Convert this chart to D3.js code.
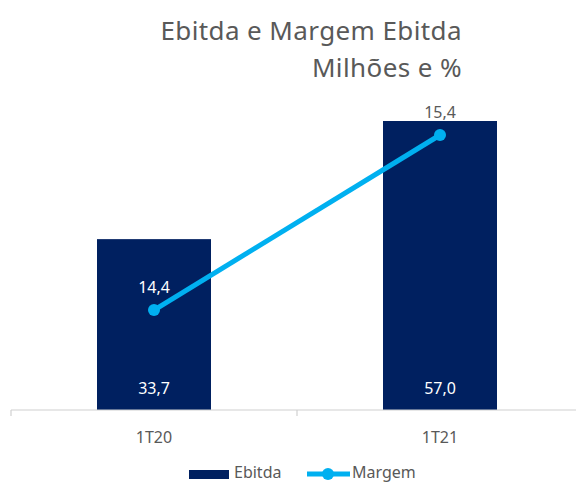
<!DOCTYPE html>
<html>
<head>
<meta charset="utf-8">
<script src="https://cdn.jsdelivr.net/npm/d3@7"></script>
<style>
  body { margin: 0; background: #fff; }
  svg { display: block; font-family: "Noto Sans", sans-serif; }
</style>
</head>
<body>
<div id="chart"></div>
<script>
// Ebitda e Margem Ebitda
///

const categories = ['1T20', '1T21'];
const ebitda = [33.7, 57.0];
const margem = [14.4, 15.4];
const ebitdaLabels = ['33,7', '57,0'];
const margemLabels = ['14,4', '15,4'];
const titleLines = ['Ebitda e Margem Ebitda', 'Milhões e %'];

const w = 576, h = 483;
const navy = '#002060', cyan = '#00b0f0', grey = '#595959';

let svg = d3.select('#chart').append('svg')
	.attr('width', w)
	.attr('height', h);

const x = d3.scaleBand().domain(categories).range([11, 583]).paddingInner(0).paddingOuter(0);
const y = d3.scaleLinear().domain([0, 57]).range([410, 121]);
const y2 = d3.scaleLinear().domain([13.829, 15.4]).range([410, 135]);
const barW = 114;

// title
svg.append('g').selectAll('text')
	.data(titleLines)
	.enter().append('text')
	.attr('x', 462)
	.attr('y', (d, i) => 40 + i * 37)
	.attr('text-anchor', 'end')
	.attr('fill', grey)
	.style('font-size', '26px')
	.style('letter-spacing', '0.4px')
	.text(d => d);

// bars
svg.append('g').selectAll('rect')
	.data(ebitda)
	.enter().append('rect')
	.attr('x', (d, i) => x(categories[i]) + x.bandwidth() / 2 - barW / 2)
	.attr('y', d => y(d))
	.attr('width', barW)
	.attr('height', d => y(0) - y(d))
	.attr('fill', navy);

// axis
let axis = svg.append('g').attr('transform', 'translate(0,' + y(0) + ')');
axis.append('line')
	.attr('x1', 11).attr('x2', w)
	.attr('stroke', '#d0d0d0').attr('stroke-width', 1.2);
axis.selectAll('.tick')
	.data(categories)
	.enter().append('line')
	.attr('x1', d => x(d)).attr('x2', d => x(d))
	.attr('y1', 0).attr('y2', 6)
	.attr('stroke', '#d0d0d0').attr('stroke-width', 1.2);
axis.selectAll('.cat')
	.data(categories)
	.enter().append('text')
	.attr('x', d => x(d) + x.bandwidth() / 2)
	.attr('y', 33)
	.attr('text-anchor', 'middle')
	.attr('fill', grey)
	.style('font-size', '16px')
	.text(d => d);

// bar value labels
svg.append('g').selectAll('text')
	.data(ebitdaLabels)
	.enter().append('text')
	.attr('x', (d, i) => x(categories[i]) + x.bandwidth() / 2)
	.attr('y', 394)
	.attr('text-anchor', 'middle')
	.attr('fill', '#fff')
	.style('font-size', '16px')
	.text(d => d);

// margem line
const line = d3.line()
	.x((d, i) => x(categories[i]) + x.bandwidth() / 2)
	.y(d => y2(d));

svg.append('path')
	.datum(margem)
	.attr('d', line)
	.attr('fill', 'none')
	.attr('stroke', cyan)
	.attr('stroke-width', 5);

svg.append('g').selectAll('circle')
	.data(margem)
	.enter().append('circle')
	.attr('cx', (d, i) => x(categories[i]) + x.bandwidth() / 2)
	.attr('cy', d => y2(d))
	.attr('r', 6)
	.attr('fill', cyan);

svg.append('g').selectAll('text')
	.data(margemLabels)
	.enter().append('text')
	.attr('x', (d, i) => x(categories[i]) + x.bandwidth() / 2)
	.attr('y', (d, i) => y2(margem[i]) - 17)
	.attr('text-anchor', 'middle')
	.attr('fill', (d, i) => y2(margem[i]) > y(ebitda[i]) + 30 ? '#fff' : grey)
	.style('font-size', '16px')
	.text(d => d);

// legend
let legend = svg.append('g');
legend.append('rect')
	.attr('x', 189).attr('y', 470)
	.attr('width', 40).attr('height', 9)
	.attr('fill', navy);
legend.append('text')
	.attr('x', 234).attr('y', 478)
	.attr('fill', grey)
	.style('font-size', '16px')
	.text('Ebitda');
legend.append('line')
	.attr('x1', 307).attr('x2', 350)
	.attr('y1', 474).attr('y2', 474)
	.attr('stroke', cyan).attr('stroke-width', 5);
legend.append('circle')
	.attr('cx', 328).attr('cy', 474).attr('r', 6)
	.attr('fill', cyan);
legend.append('text')
	.attr('x', 352).attr('y', 478)
	.attr('fill', grey)
	.style('font-size', '16px')
	.text('Margem');
</script>
</body>
</html>
